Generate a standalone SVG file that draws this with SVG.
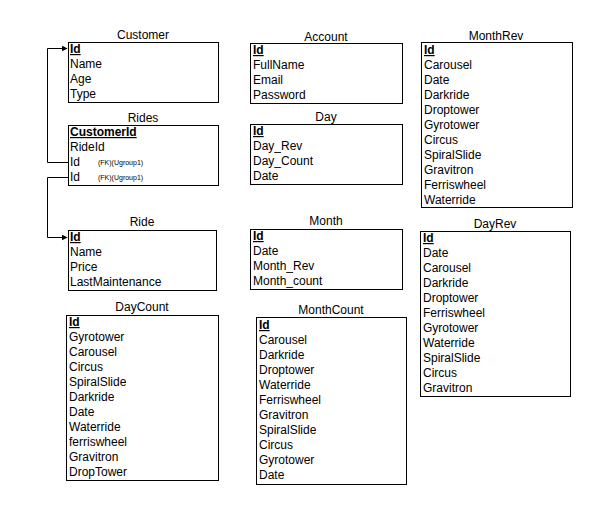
<svg xmlns="http://www.w3.org/2000/svg" width="597" height="509" viewBox="0 0 597 509">
<style>
.box{fill:#fff;stroke:#000;stroke-width:1}
text{font-family:"Liberation Sans",Arial,sans-serif;font-size:12px;fill:#000}
.t{text-anchor:middle}
.pk{font-weight:bold;text-decoration:underline}
.fk{font-size:7px}
.c{fill:none;stroke:#000;stroke-width:1}
</style>
<defs>
<marker id="arr" viewBox="0 0 10 10" refX="9" refY="5" markerWidth="6" markerHeight="6" markerUnits="userSpaceOnUse" orient="auto">
<path d="M0,0 L10,5 L0,10 z" fill="#000"/>
</marker>
</defs>
<rect width="597" height="509" fill="#fff"/>
<g id="connectors">
<path class="c" d="M68.5,162.5 H47.5 V48.5 H67" marker-end="url(#arr)"/>
<path class="c" d="M68.5,177.5 H47.5 V237.5 H67" marker-end="url(#arr)"/>
</g>
<g id="Customer">
<text class="t" x="143" y="39">Customer</text>
<rect class="box" x="68.5" y="42.5" width="150" height="60"/>
<text class="pk" x="70" y="53">Id</text>
<text x="70" y="68">Name</text>
<text x="70" y="83">Age</text>
<text x="70" y="98">Type</text>
</g>
<g id="Rides">
<text class="t" x="143" y="122">Rides</text>
<rect class="box" x="68.5" y="125.5" width="150" height="60"/>
<text class="pk" x="70" y="136">CustomerId</text>
<text x="70" y="151">RideId</text>
<text x="70" y="166">Id</text>
<text class="fk" x="98" y="165">(FK)(Ugroup1)</text>
<text x="70" y="181">Id</text>
<text class="fk" x="98" y="180">(FK)(Ugroup1)</text>
</g>
<g id="Ride">
<text class="t" x="142" y="226">Ride</text>
<rect class="box" x="68.5" y="230.5" width="148" height="60"/>
<text class="pk" x="70" y="241">Id</text>
<text x="70" y="256">Name</text>
<text x="70" y="271">Price</text>
<text x="70" y="286">LastMaintenance</text>
</g>
<g id="DayCount">
<text class="t" x="142" y="311">DayCount</text>
<rect class="box" x="66.5" y="315.5" width="152" height="165"/>
<text class="pk" x="69" y="326">Id</text>
<text x="69" y="341">Gyrotower</text>
<text x="69" y="356">Carousel</text>
<text x="69" y="371">Circus</text>
<text x="69" y="386">SpiralSlide</text>
<text x="69" y="401">Darkride</text>
<text x="69" y="416">Date</text>
<text x="69" y="431">Waterride</text>
<text x="69" y="446">ferriswheel</text>
<text x="69" y="461">Gravitron</text>
<text x="69" y="476">DropTower</text>
</g>
<g id="Account">
<text class="t" x="326" y="41">Account</text>
<rect class="box" x="250.5" y="43.5" width="152" height="60"/>
<text class="pk" x="253" y="54">Id</text>
<text x="253" y="69">FullName</text>
<text x="253" y="84">Email</text>
<text x="253" y="99">Password</text>
</g>
<g id="Day">
<text class="t" x="326" y="121">Day</text>
<rect class="box" x="250.5" y="124.5" width="152" height="60"/>
<text class="pk" x="253" y="135">Id</text>
<text x="253" y="150">Day_Rev</text>
<text x="253" y="165">Day_Count</text>
<text x="253" y="180">Date</text>
</g>
<g id="Month">
<text class="t" x="326" y="225">Month</text>
<rect class="box" x="250.5" y="229.5" width="152" height="60"/>
<text class="pk" x="253" y="240">Id</text>
<text x="253" y="255">Date</text>
<text x="253" y="270">Month_Rev</text>
<text x="253" y="285">Month_count</text>
</g>
<g id="MonthCount">
<text class="t" x="331" y="314">MonthCount</text>
<rect class="box" x="256.5" y="317.5" width="150" height="167"/>
<text class="pk" x="259" y="329">Id</text>
<text x="259" y="344">Carousel</text>
<text x="259" y="359">Darkride</text>
<text x="259" y="374">Droptower</text>
<text x="259" y="389">Waterride</text>
<text x="259" y="404">Ferriswheel</text>
<text x="259" y="419">Gravitron</text>
<text x="259" y="434">SpiralSlide</text>
<text x="259" y="449">Circus</text>
<text x="259" y="464">Gyrotower</text>
<text x="259" y="479">Date</text>
</g>
<g id="MonthRev">
<text class="t" x="496" y="40">MonthRev</text>
<rect class="box" x="421.5" y="42.5" width="151" height="165"/>
<text class="pk" x="424" y="54">Id</text>
<text x="424" y="69">Carousel</text>
<text x="424" y="84">Date</text>
<text x="424" y="99">Darkride</text>
<text x="424" y="114">Droptower</text>
<text x="424" y="129">Gyrotower</text>
<text x="424" y="144">Circus</text>
<text x="424" y="159">SpiralSlide</text>
<text x="424" y="174">Gravitron</text>
<text x="424" y="189">Ferriswheel</text>
<text x="424" y="204">Waterride</text>
</g>
<g id="DayRev">
<text class="t" x="495" y="228">DayRev</text>
<rect class="box" x="420.5" y="231.5" width="150" height="165"/>
<text class="pk" x="423" y="242">Id</text>
<text x="423" y="257">Date</text>
<text x="423" y="272">Carousel</text>
<text x="423" y="287">Darkride</text>
<text x="423" y="302">Droptower</text>
<text x="423" y="317">Ferriswheel</text>
<text x="423" y="332">Gyrotower</text>
<text x="423" y="347">Waterride</text>
<text x="423" y="362">SpiralSlide</text>
<text x="423" y="377">Circus</text>
<text x="423" y="392">Gravitron</text>
</g>
</svg>
